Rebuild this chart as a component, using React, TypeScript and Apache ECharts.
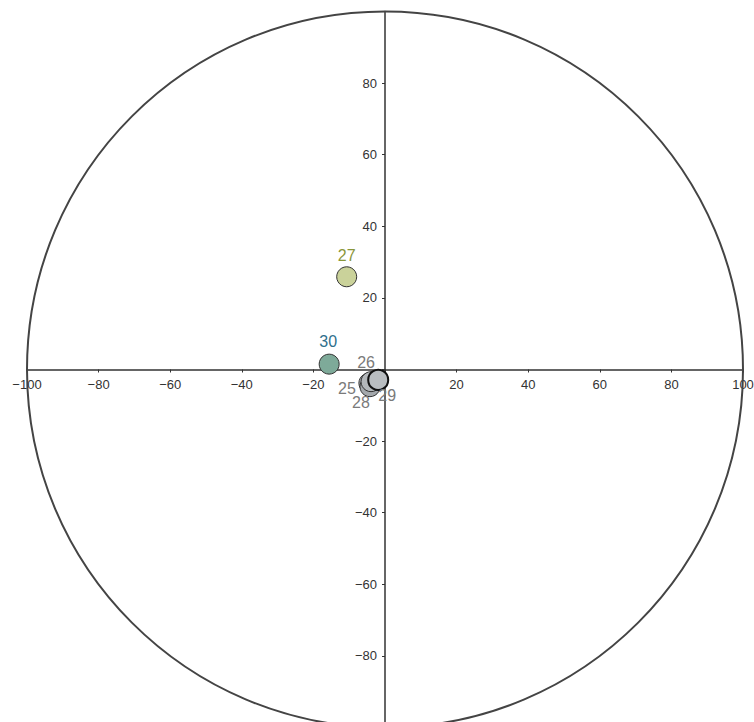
import React, { useEffect, useRef } from "react";
import * as echarts from "echarts";

const names = ["25", "28", "26", "30", "27", "29"];
const xs = [-4.5, -4.2, -3.9, -15.6, -10.7, -1.9];
const ys = [-3.8, -4.8, -3.4, 1.5, 25.9, -2.9];
const axisMin = -100;
const axisMax = 100;
const tickStep = 20;
const circleRadius = 100;

const fills: Record<string, string> = {
  "25": "#a9adb1",
  "28": "#a4a8ac",
  "26": "#b3b7ba",
  "30": "#7eaa99",
  "27": "#cad29a",
  "29": "#b9bdc0",
};
const labelColors: Record<string, string> = {
  "25": "#7a7a7a",
  "28": "#7a7a7a",
  "26": "#7a7a7a",
  "30": "#2f6f8c",
  "27": "#8a963a",
  "29": "#7a7a7a",
};
const labelOffsets: Record<string, number[]> = {
  "25": [-22, 5],
  "28": [-9, 16],
  "26": [-5, -19],
  "30": [-1, -23],
  "27": [0, -21],
  "29": [9, 16],
};

const GRID_SIZE = 716;
const fmt = (v: number) => (v < 0 ? "\u2212" + Math.abs(v) : String(v));

export default function App() {
  const ref = useRef<HTMLDivElement>(null);
  useEffect(() => {
    if (!ref.current) return;
    const chart = echarts.init(ref.current, undefined, { renderer: "svg" });
    const font = "Liberation Sans, Arial, Helvetica, sans-serif";
    chart.setOption({
      animation: false,
      backgroundColor: "#ffffff",
      grid: {
        left: 27,
        top: 11.5,
        width: GRID_SIZE,
        height: GRID_SIZE,
        containLabel: false,
        outerBoundsMode: "none",
      },
      xAxis: {
        type: "value",
        min: axisMin,
        max: axisMax,
        interval: tickStep,
        position: "bottom",
        offset: -GRID_SIZE / 2,
        splitLine: { show: false },
        axisLine: { onZero: false, lineStyle: { color: "#333", width: 1.5 } },
        axisTick: { length: 3, lineStyle: { color: "#333" } },
        axisLabel: {
          showMinLabel: true,
          showMaxLabel: true,
          margin: 8,
          fontSize: 13,
          color: "#333",
          fontFamily: font,
          formatter: (v: number) => (v === 0 ? "" : fmt(v)),
        },
      },
      yAxis: {
        type: "value",
        min: axisMin,
        max: axisMax,
        interval: tickStep,
        position: "left",
        offset: -GRID_SIZE / 2,
        splitLine: { show: false },
        axisLine: { onZero: false, lineStyle: { color: "#333", width: 1.5 } },
        axisTick: { length: 3, lineStyle: { color: "#333" } },
        axisLabel: {
          margin: 8,
          fontSize: 13,
          color: "#333",
          fontFamily: font,
          formatter: (v: number) => (v === 0 || Math.abs(v) === 100 ? "" : fmt(v)),
        },
      },
      series: [
        {
          type: "custom",
          silent: true,
          clip: false,
          z: 1,
          data: [[0, 0, circleRadius]],
          renderItem: (params: any, api: any) => {
            const c = api.coord([api.value(0), api.value(1)]);
            const s = api.size([api.value(2), api.value(2)]);
            return {
              type: "ellipse",
              shape: { cx: c[0], cy: c[1], rx: s[0], ry: s[1] },
              style: { fill: "none", stroke: "#444", lineWidth: 2 },
            };
          },
        },
        {
          type: "scatter",
          symbolSize: 20,
          z: 3,
          data: names.map((n, i) => ({
            name: n,
            value: [xs[i], ys[i]],
            itemStyle: {
              color: fills[n],
              borderColor: n === "29" ? "#111" : "#333",
              borderWidth: n === "29" ? 2 : 1,
              opacity: 1,
            },
            label: {
              show: true,
              position: "inside",
              offset: labelOffsets[n],
              formatter: "{b}",
              fontSize: 16,
              fontFamily: font,
              color: labelColors[n],
            },
          })),
        },
      ],
    });
    return () => chart.dispose();
  }, []);
  return (
    <div
      ref={ref}
      style={{ position: "absolute", left: 0, top: 0, width: 754, height: 722 }}
    />
  );
}
